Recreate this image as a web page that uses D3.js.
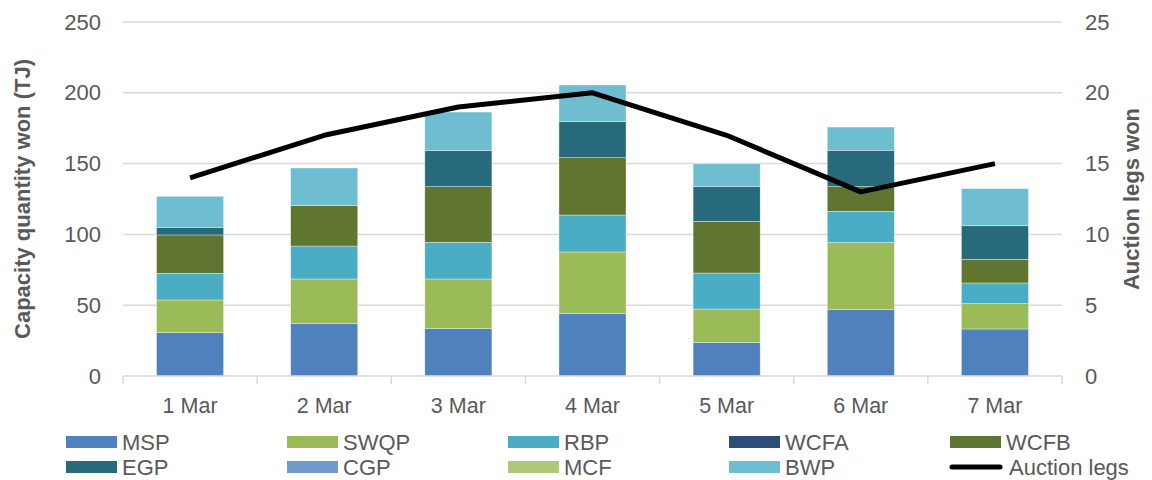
<!DOCTYPE html>
<html><head><meta charset="utf-8">
<script src="https://cdn.jsdelivr.net/npm/d3@7"></script>
<style>body{margin:0;background:#fff}text{font-family:"Liberation Sans",Arial,sans-serif}</style>
</head><body><svg id="c" width="1152" height="480"></svg>
<script>
const categories = ["1 Mar","2 Mar","3 Mar","4 Mar","5 Mar","6 Mar","7 Mar"];
const seriesNames = ["MSP","SWQP","RBP","WCFA","WCFB","EGP","CGP","MCF","BWP"];
const MSP  = [30.6, 37.2, 33.4, 44.0, 23.8, 46.8, 33.2];
const SWQP = [23.1, 31.3, 35.1, 43.6, 23.5, 47.4, 17.9];
const RBP  = [18.8, 23.3, 25.9, 26.1, 25.4, 22.1, 14.6];
const WCFA = [0, 0, 0, 0, 0, 0, 0];
const WCFB = [27.1, 28.5, 39.3, 40.5, 36.5, 17.4, 16.7];
const EGP  = [5.4, 0, 25.4, 25.4, 24.5, 25.7, 23.7];
const CGP  = [0, 0, 0, 0, 0, 0, 0];
const MCF  = [0, 0, 0, 0, 0, 0, 0];
const BWP  = [21.9, 26.6, 27.3, 25.9, 16.2, 16.4, 26.2];
const auctionLegs = [14, 17, 19, 20, 17, 13, 15];
const leftTicks = [0, 50, 100, 150, 200, 250];
const rightTicks = [0, 5, 10, 15, 20, 25];
const colors = ["#4F81BD","#9BBB59","#4BACC6","#2C4D75","#5F7530","#276A7C","#729ACA","#AFC97A","#6FBDD1"];

const seriesValues = [MSP,SWQP,RBP,WCFA,WCFB,EGP,CGP,MCF,BWP];
const rows = categories.map((c,i)=>{const r={cat:c};seriesNames.forEach((s,j)=>r[s]=seriesValues[j][i]);return r;});
const stack = d3.stack().keys(seriesNames)(rows);

const svg = d3.select("#c");
const L=123, R=1062, T=22, B=376;
const x = d3.scaleBand().domain(categories).range([L,R]).paddingInner(0.5).paddingOuter(0.25);
const y = d3.scaleLinear().domain([0,250]).range([B,T]);
const y2 = d3.scaleLinear().domain([0,25]).range([B,T]);
const grey="#595959";

// gridlines
svg.append("g").selectAll("line").data(leftTicks.filter(d=>d>0)).join("line")
  .attr("x1",L).attr("x2",R).attr("y1",d=>y(d)).attr("y2",d=>y(d))
  .attr("stroke","#d9d9d9").attr("stroke-width",1.5);

// bars
svg.append("g").selectAll("g").data(stack).join("g")
  .attr("fill",(d,i)=>colors[i])
  .selectAll("rect").data(d=>d).join("rect")
  .attr("x",d=>x(d.data.cat)).attr("width",x.bandwidth())
  .attr("y",d=>y(d[1])).attr("height",d=>Math.max(0,y(d[0])-y(d[1])))
  .attr("stroke","#fff").attr("stroke-width",0.6).attr("stroke-opacity",0.6);

// x axis
const xb = d3.scaleBand().domain(categories).range([L,R]);
const gx = svg.append("g").attr("transform",`translate(0,${B})`);
gx.append("line").attr("x1",L).attr("x2",R).attr("stroke","#d9d9d9").attr("stroke-width",1.5);
gx.selectAll("line.t").data(d3.range(categories.length+1)).join("line").attr("class","t")
  .attr("x1",i=>L+i*xb.step()).attr("x2",i=>L+i*xb.step()).attr("y1",0).attr("y2",8)
  .attr("stroke","#d9d9d9").attr("stroke-width",1.5);
gx.selectAll("text").data(categories).join("text")
  .attr("x",d=>xb(d)+xb.bandwidth()/2).attr("y",37).attr("text-anchor","middle")
  .attr("fill",grey).attr("font-size",21.5).text(d=>d);

// left axis
const yl = d3.axisLeft(y).tickValues(leftTicks).tickSize(0).tickPadding(22);
svg.append("g").attr("transform",`translate(${L},0)`).call(yl)
  .call(g=>g.select(".domain").remove())
  .call(g=>g.selectAll("text").attr("fill",grey).attr("font-size",22).attr("font-family","Liberation Sans, Arial, sans-serif"));
// right axis
const yr = d3.axisRight(y2).tickValues(rightTicks).tickSize(0).tickPadding(23);
svg.append("g").attr("transform",`translate(${R},0)`).call(yr)
  .call(g=>g.select(".domain").remove())
  .call(g=>g.selectAll("text").attr("fill",grey).attr("font-size",22).attr("font-family","Liberation Sans, Arial, sans-serif"));

// axis titles
svg.append("text").attr("transform",`translate(30,${(T+B)/2}) rotate(-90)`)
  .attr("text-anchor","middle").attr("fill",grey).attr("font-size",22).attr("font-weight","bold")
  .text("Capacity quantity won (TJ)");
svg.append("text").attr("transform",`translate(1139,${(T+B)/2}) rotate(-90)`)
  .attr("text-anchor","middle").attr("fill",grey).attr("font-size",22).attr("font-weight","bold")
  .text("Auction legs won");

// line
const line = d3.line().x((d,i)=>x(categories[i])+x.bandwidth()/2).y(d=>y2(d));
svg.append("path").datum(auctionLegs).attr("d",line)
  .attr("fill","none").attr("stroke","#000").attr("stroke-width",5).attr("stroke-linejoin","round");

// legend
const legItems = seriesNames.map((s,i)=>({name:s,color:colors[i],type:"rect"})).concat([{name:"Auction legs",color:"#000",type:"line"}]);
const lg = svg.append("g");
legItems.forEach((d,i)=>{
  const col=i%5, row=Math.floor(i/5);
  const gx0 = 66 + col*221, gy = 442 + row*25;
  const g = lg.append("g").attr("transform",`translate(${gx0},${gy})`);
  if(d.type==="rect") g.append("rect").attr("x",0).attr("y",-6).attr("width",51).attr("height",12).attr("fill",d.color);
  else g.append("line").attr("x1",2).attr("x2",50).attr("y1",0).attr("y2",0).attr("stroke","#000").attr("stroke-width",5).attr("stroke-linecap","round");
  g.append("text").attr("x",d.type==="line"?59:56).attr("y",8).attr("fill",grey).attr("font-size",22).text(d.name);
});
</script></body></html>
